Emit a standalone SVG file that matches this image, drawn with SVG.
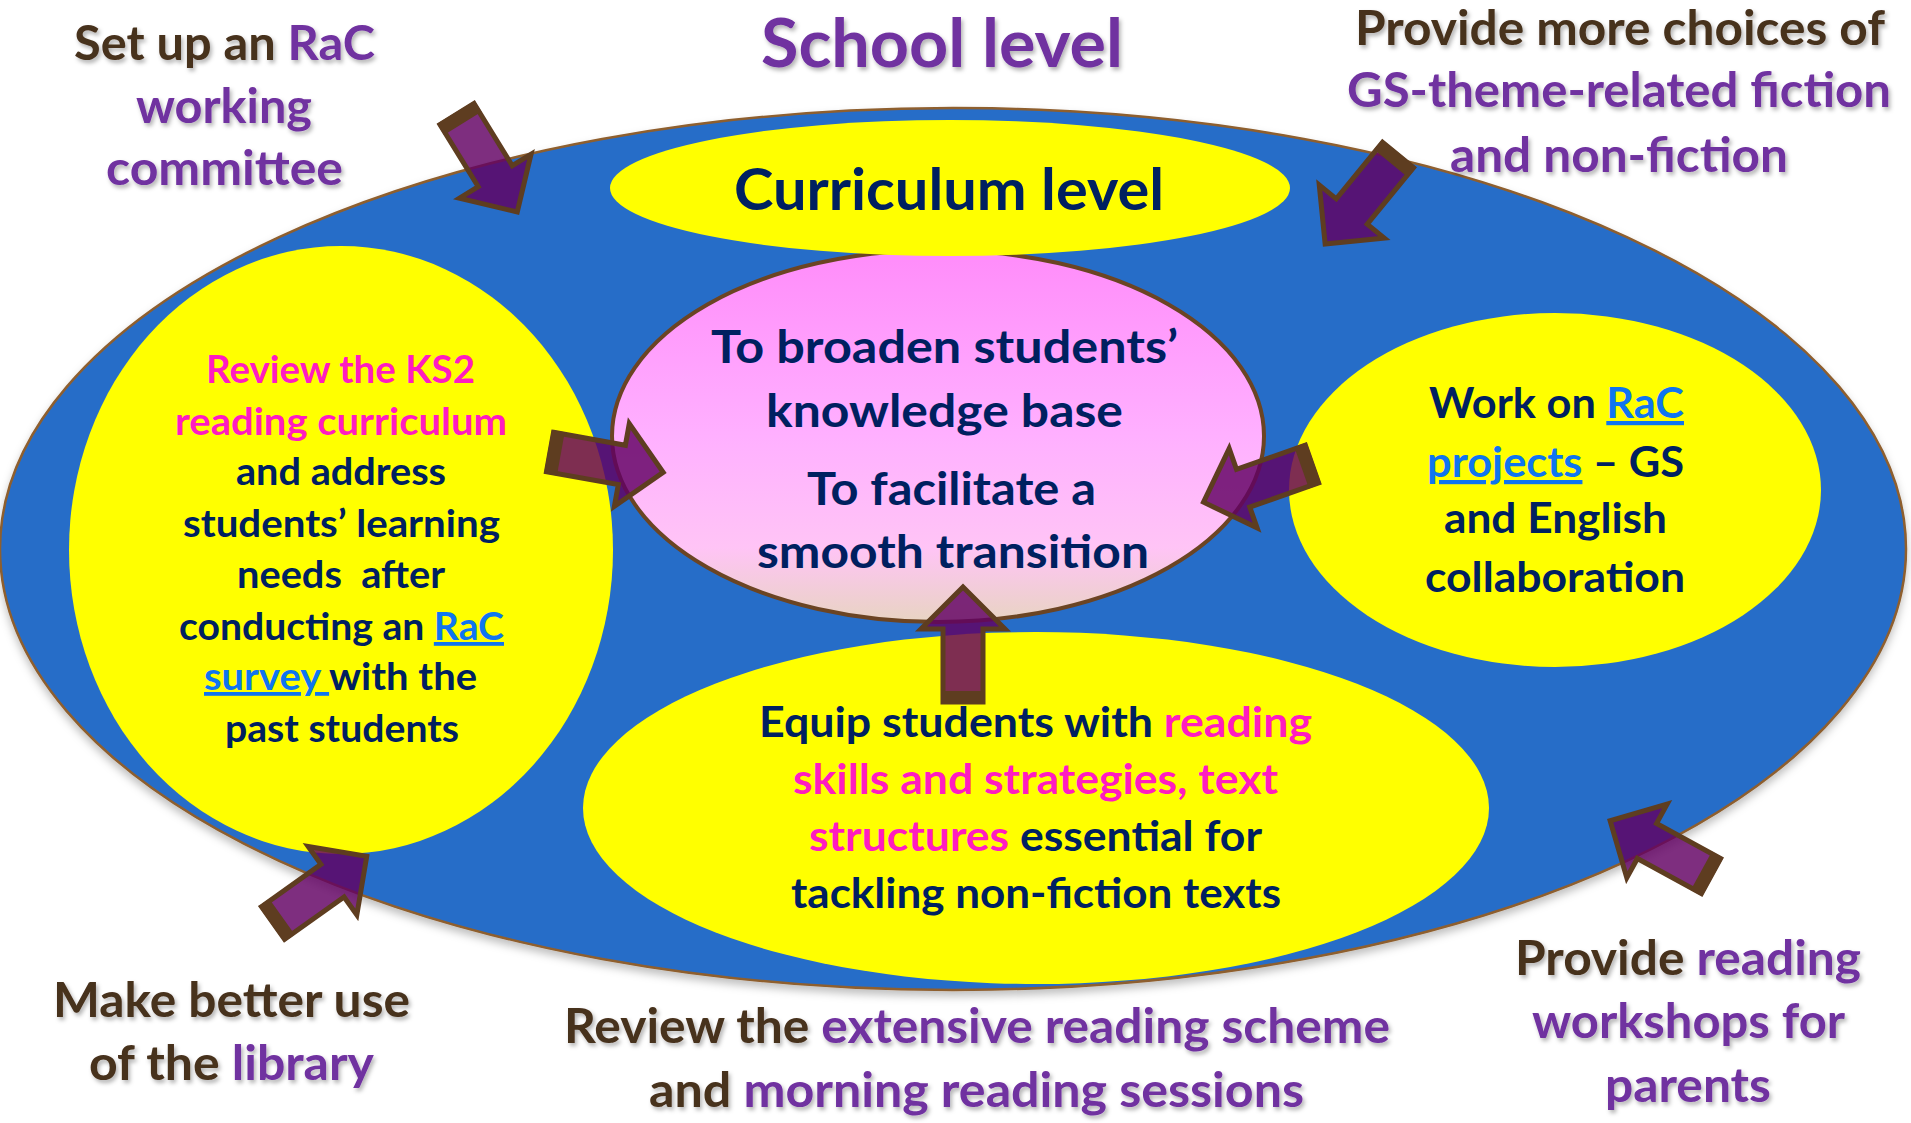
<svg xmlns="http://www.w3.org/2000/svg" width="1911" height="1123" viewBox="0 0 1911 1123">
  <defs>
    <style>
      text { font-family: Lato, "Open Sans", "Liberation Sans", sans-serif; font-weight: 700; }
      .navy { fill: #002060; }
      .pink { fill: #FF1CC0; }
      .link { fill: #0F75F0; text-decoration: underline; }
      .brown { fill: #47301C; }
      .purple { fill: #7030A0; }
      .outer { font-size: 47px; filter: url(#textShadow); }
      .yellow { fill: #FFFF00; }
      .arrow-body { fill: #620063; fill-opacity: 0.82; stroke: #5E3D20; stroke-width: 5; stroke-linejoin: miter; }
      .arrow-cap { fill: #5E3D20; }
    </style>
    <filter id="textShadow" x="-10%" y="-30%" width="120%" height="170%">
      <feDropShadow dx="2" dy="3" stdDeviation="2" flood-color="#000000" flood-opacity="0.3"/>
    </filter>
    <filter id="softShadow" x="-5%" y="-5%" width="110%" height="115%">
      <feDropShadow dx="0" dy="5" stdDeviation="4" flood-color="#000000" flood-opacity="0.25"/>
    </filter>
    <linearGradient id="goalFill" x1="0" y1="0" x2="0" y2="1">
      <stop offset="0" stop-color="#FF8CFA"/>
      <stop offset="0.5" stop-color="#FFB0FF"/>
      <stop offset="0.8" stop-color="#FFC4F6"/>
      <stop offset="1" stop-color="#E8D4C2"/>
    </linearGradient>
    <!-- block arrow: tail at origin, pointing along +x -->
    <g id="blockArrow">
      <path class="arrow-body" d="M0,-20 H73 V-42 L115,0 L73,42 V20 H0 Z"/>
      <rect class="arrow-cap" x="-2" y="-22" width="13" height="44"/>
    </g>
  </defs>

  <rect width="1911" height="1123" fill="#FFFFFF"/>

  <!-- outer ring: school level -->
  <g id="school-level">
    <ellipse cx="953" cy="549" rx="953" ry="441" fill="#286DC8" stroke="#8E5E2E" stroke-width="2.5" filter="url(#softShadow)"/>
    <text class="purple outer" x="761" y="67" style="font-size:66px" textLength="362" lengthAdjust="spacingAndGlyphs">School level</text>
  </g>

  <!-- centre: goals -->
  <g id="goals">
    <ellipse cx="938" cy="436" rx="326" ry="186" fill="url(#goalFill)" stroke="#6B4423" stroke-width="4"/>
    <text class="navy" font-size="45" x="711" y="363" textLength="467" lengthAdjust="spacingAndGlyphs">To broaden students’</text>
    <text class="navy" font-size="45" x="766" y="427" textLength="357" lengthAdjust="spacingAndGlyphs">knowledge base</text>
    <text class="navy" font-size="45" x="807" y="505" textLength="289" lengthAdjust="spacingAndGlyphs">To facilitate a</text>
    <text class="navy" font-size="45" x="757" y="568" textLength="392" lengthAdjust="spacingAndGlyphs">smooth transition</text>
  </g>

  <!-- curriculum level banner -->
  <g id="curriculum-level">
    <ellipse class="yellow" cx="950" cy="188" rx="340" ry="68"/>
    <text class="navy" font-size="57" x="734" y="210" textLength="430" lengthAdjust="spacingAndGlyphs">Curriculum level</text>
  </g>

  <!-- left: KS2 reading curriculum -->
  <g id="review-curriculum">
    <ellipse class="yellow" cx="341" cy="550" rx="272" ry="304"/>
    <text class="pink" font-size="38" x="206" y="383" textLength="269" lengthAdjust="spacingAndGlyphs">Review the KS2</text>
    <text class="pink" font-size="38" x="175" y="435" textLength="332" lengthAdjust="spacingAndGlyphs">reading curriculum</text>
    <text class="navy" font-size="38" x="236" y="485" textLength="210" lengthAdjust="spacingAndGlyphs">and address</text>
    <text class="navy" font-size="38" x="183" y="537" textLength="317" lengthAdjust="spacingAndGlyphs">students’ learning</text>
    <text class="navy" font-size="38" x="237" y="588" textLength="208" lengthAdjust="spacingAndGlyphs" xml:space="preserve">needs  after</text>
    <text class="navy" font-size="38" x="179" y="640" textLength="325" lengthAdjust="spacingAndGlyphs">conducting an <tspan class="link">RaC</tspan></text>
    <text class="navy" font-size="38" x="204" y="690" textLength="273" lengthAdjust="spacingAndGlyphs" xml:space="preserve"><tspan class="link">survey </tspan>with the</text>
    <text class="navy" font-size="38" x="225" y="742" textLength="234" lengthAdjust="spacingAndGlyphs">past students</text>
  </g>

  <!-- right: RaC projects -->
  <g id="rac-projects">
    <ellipse class="yellow" cx="1555" cy="490" rx="266" ry="177"/>
    <text class="navy" font-size="42" x="1429" y="418" textLength="255" lengthAdjust="spacingAndGlyphs">Work on <tspan class="link">RaC</tspan></text>
    <text class="navy" font-size="42" x="1427" y="477" textLength="257" lengthAdjust="spacingAndGlyphs"><tspan class="link">projects</tspan> – GS</text>
    <text class="navy" font-size="42" x="1444" y="533" textLength="223" lengthAdjust="spacingAndGlyphs">and English</text>
    <text class="navy" font-size="42" x="1425" y="592" textLength="260" lengthAdjust="spacingAndGlyphs">collaboration</text>
  </g>

  <!-- bottom: reading skills -->
  <g id="reading-skills">
    <ellipse class="yellow" cx="1036" cy="808" rx="453" ry="176"/>
    <text class="navy" font-size="42" x="759" y="737" textLength="553" lengthAdjust="spacingAndGlyphs">Equip students with <tspan class="pink">reading</tspan></text>
    <text class="pink" font-size="42" x="793" y="794" textLength="485" lengthAdjust="spacingAndGlyphs">skills and strategies, text</text>
    <text class="navy" font-size="42" x="809" y="851" textLength="453" lengthAdjust="spacingAndGlyphs"><tspan class="pink">structures</tspan> essential for</text>
    <text class="navy" font-size="42" x="791" y="908" textLength="490" lengthAdjust="spacingAndGlyphs">tackling non-fiction texts</text>
  </g>

  <!-- school-level actions around the ring -->
  <g id="working-committee">
    <text class="outer brown" x="74" y="60" textLength="301" lengthAdjust="spacingAndGlyphs">Set up an <tspan class="purple">RaC</tspan></text>
    <text class="outer purple" x="136" y="123" textLength="176" lengthAdjust="spacingAndGlyphs">working</text>
    <text class="outer purple" x="106" y="185" textLength="237" lengthAdjust="spacingAndGlyphs">committee</text>
  </g>

  <g id="more-choices">
    <text class="outer brown" x="1355" y="45" textLength="530" lengthAdjust="spacingAndGlyphs">Provide more choices of</text>
    <text class="outer purple" x="1347" y="107" textLength="544" lengthAdjust="spacingAndGlyphs">GS-theme-related fiction</text>
    <text class="outer purple" x="1450" y="172" textLength="338" lengthAdjust="spacingAndGlyphs">and non-fiction</text>
  </g>

  <g id="library">
    <text class="outer brown" x="53" y="1017" textLength="357" lengthAdjust="spacingAndGlyphs">Make better use</text>
    <text class="outer brown" x="89" y="1080" textLength="285" lengthAdjust="spacingAndGlyphs">of the <tspan class="purple">library</tspan></text>
  </g>

  <g id="reading-scheme">
    <text class="outer brown" x="564" y="1043" textLength="826" lengthAdjust="spacingAndGlyphs">Review the <tspan class="purple">extensive reading scheme</tspan></text>
    <text class="outer brown" x="649" y="1107" textLength="655" lengthAdjust="spacingAndGlyphs">and <tspan class="purple">morning reading sessions</tspan></text>
  </g>

  <g id="parent-workshops">
    <text class="outer brown" x="1515" y="975" textLength="346" lengthAdjust="spacingAndGlyphs">Provide <tspan class="purple">reading</tspan></text>
    <text class="outer purple" x="1532" y="1038" textLength="313" lengthAdjust="spacingAndGlyphs">workshops for</text>
    <text class="outer purple" x="1605" y="1102" textLength="166" lengthAdjust="spacingAndGlyphs">parents</text>
  </g>

  <!-- connectors: block arrows -->
  <g id="connectors">
    <use href="#blockArrow" transform="translate(457,114) rotate(58.4)"/>
    <use href="#blockArrow" transform="translate(1398,155) rotate(129.3)"/>
    <use href="#blockArrow" transform="translate(550,452) rotate(10.2)"/>
    <use href="#blockArrow" transform="translate(1312,464) rotate(160.6)"/>
    <use href="#blockArrow" transform="translate(963,702) rotate(-90)"/>
    <use href="#blockArrow" transform="translate(273,923) rotate(-35.4)"/>
    <use href="#blockArrow" transform="translate(1711,876) rotate(208.7)"/>
  </g>
</svg>
